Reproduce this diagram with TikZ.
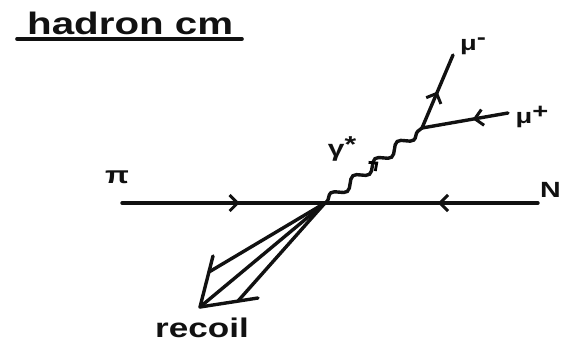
\documentclass[tikz,border=0pt]{standalone}
\usepackage{fontspec}
\newfontfamily\handfont[FakeStretch=1.3]{Liberation Sans}
\usetikzlibrary{arrows.meta,decorations.markings,decorations.pathmorphing}
\definecolor{cInk}{HTML}{111111}
\tikzset{
  fline/.style={line width=3.4pt,color=cInk,line cap=round},
  midarr/.style={postaction={decorate},decoration={markings,
    mark=at position #1 with {\arrow{Straight Barb[length=8pt,width=16pt,line width=3pt]}}}},
  photon/.style={line width=3.4pt,color=cInk,decorate,
    decoration={snake,amplitude=4.5pt,segment length=28pt,pre length=2pt,post length=4pt}},
  lbl/.style={font=\handfont\bfseries\fontsize{#1}{#1}\selectfont,text=cInk,inner sep=0pt},
  lbl/.default=20,
}
\begin{document}
\begin{tikzpicture}[x=1pt,y=-1pt]
  \useasboundingbox (0,0) rectangle (562,345);
  % title
  \node[lbl=31,anchor=base west] (title) at (27,35) {hadron cm};
  \draw[fline,line width=3.6pt] (17,39) -- (242,39);
  % vertices and line ends
  \coordinate (v) at (325,203);
  \coordinate (pin) at (122,203);
  \coordinate (nin) at (538,203);
  \coordinate (mv) at (422,128);
  \coordinate (mum) at (453,55);
  \coordinate (mup) at (508,113);
  % incoming beams
  \draw[fline,midarr=0.58] (pin) -- (v);
  \draw[fline,midarr=0.47] (nin) -- (v);
  \node[lbl=24] (pi) at (117,177) {π};
  \node[lbl=22,anchor=east] (nuc) at (561,190) {N};
  % virtual photon
  \draw[photon] (v) -- (mv);
  \path[postaction={decorate},decoration={markings,
    mark=at position 0.55 with {\arrow{Straight Barb[length=6pt,width=11pt,line width=2.8pt]}}}] (v) -- (mv);
  \node[lbl=23] (gam) at (342,149) {γ\raisebox{0.35ex}{*}};
  % muon pair
  \draw[fline,midarr=0.5] (mv) -- (mum);
  \draw[fline,midarr=0.41] (mup) -- (mv);
  \node[lbl=21] (mum-l) at (473,46) {μ\raisebox{0.55ex}{-}};
  \node[lbl=21] (mup-l) at (532,117) {μ\raisebox{0.45ex}{+}};
  % recoil
  \coordinate (rtip) at (200,307);
  \coordinate (rtop) at (209,272);
  \coordinate (rbot) at (238,301);
  \draw[fline] (v) -- (rtip);
  \draw[fline] (v) -- (rtop);
  \draw[fline] (v) -- (rbot);
  \draw[fline,line join=round] (213,256) -- (rtip) -- (258,298);
  \node[lbl=27,anchor=base] (rec) at (202,337) {recoil};
\end{tikzpicture}
\end{document}
